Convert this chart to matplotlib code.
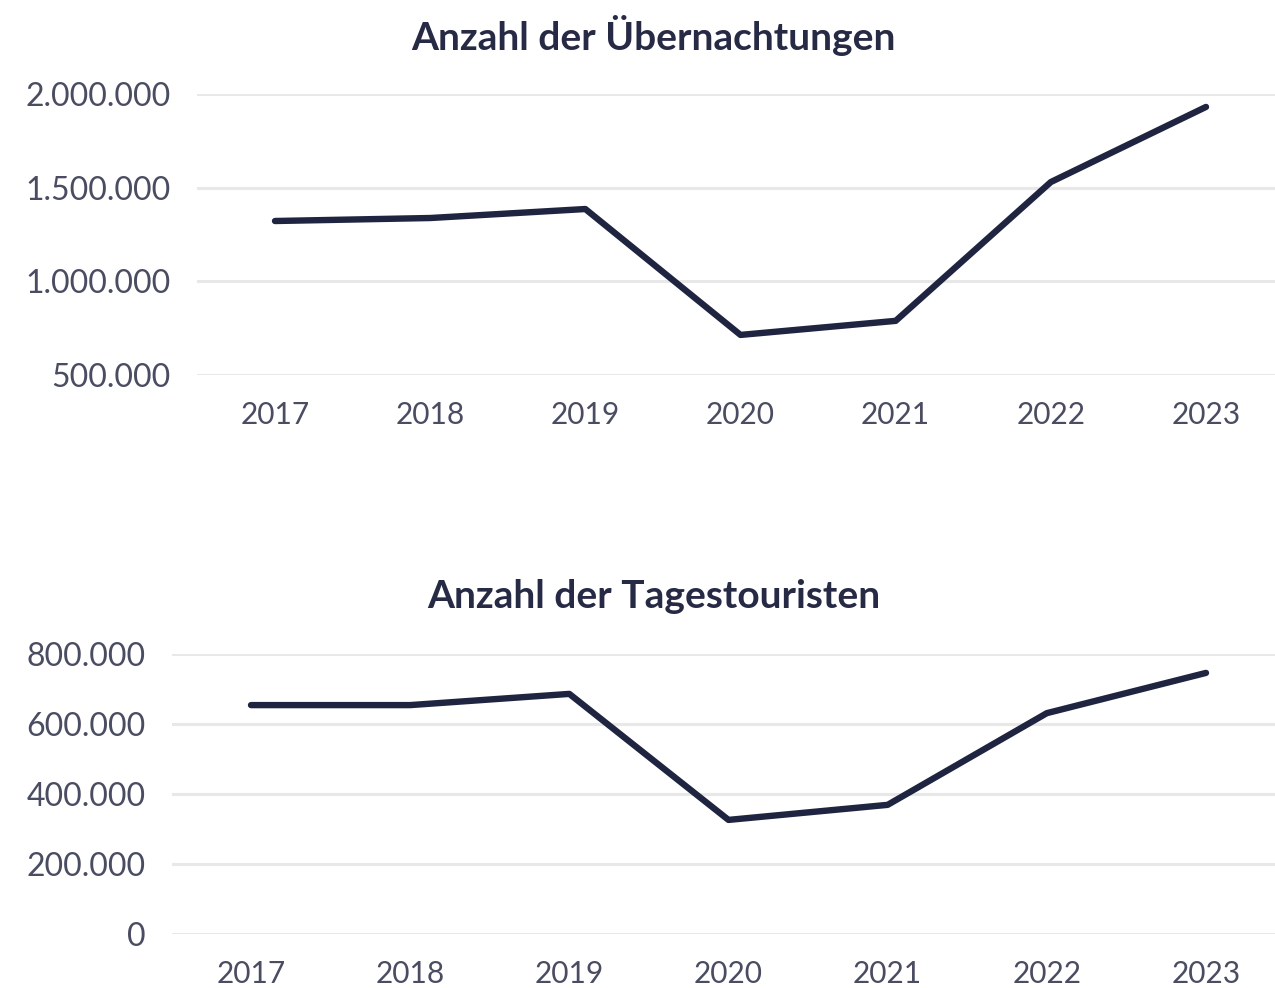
import matplotlib
matplotlib.use("Agg")
import matplotlib.pyplot as plt
from matplotlib.ticker import FuncFormatter, FixedLocator

years = ["2017", "2018", "2019", "2020", "2021", "2022", "2023"]
uebernachtungen = [1322000, 1338000, 1386000, 714000, 789000, 1530000, 1931000]
tagestouristen = [654000, 654000, 686000, 326000, 369000, 631000, 746000]

title_top = "Anzahl der Übernachtungen"
title_bottom = "Anzahl der Tagestouristen"
yticks_top = [500000, 1000000, 1500000, 2000000]
yticks_bottom = [0, 200000, 400000, 600000, 800000]

W, H = 1275, 988
LINE = "#1f2440"
GRID = "#e8e8e8"
TXT = "#4a4d62"
TITLE = "#262a45"
FONT = ["Lato", "DejaVu Sans"]

fig = plt.figure(figsize=(W / 100, H / 100), dpi=100)
fig.patch.set_facecolor("white")


def fmt(v, _pos=None):
    return f"{int(round(v)):,}".replace(",", ".")


def make_axes(left_px, top_px, bottom_px, x0_px, step_px):
    ax = fig.add_axes([left_px / W, 1 - bottom_px / H, (W - left_px) / W, (bottom_px - top_px) / H])
    xmin = (left_px - x0_px) / step_px
    xmax = (W - x0_px) / step_px
    ax.set_xlim(xmin, xmax)
    return ax


def style(ax, yticks, values):
    x = list(range(len(years)))
    ax.plot(x, values, color=LINE, lw=4.6, solid_capstyle="round",
            solid_joinstyle="round", clip_on=False, zorder=3)
    ax.set_ylim(yticks[0], yticks[-1])
    ax.yaxis.set_major_locator(FixedLocator(yticks))
    ax.yaxis.set_major_formatter(FuncFormatter(fmt))
    ax.set_xticks(x)
    ax.set_xticklabels(years)
    for s in ax.spines.values():
        s.set_visible(False)
    ax.grid(axis="y", color=GRID, lw=2.2, zorder=0)
    ax.grid(axis="x", visible=False)
    ax.tick_params(axis="both", length=0, labelcolor=TXT)
    ax.tick_params(axis="y", pad=19, labelsize=23)
    ax.tick_params(axis="x", pad=19, labelsize=21.5)
    for lab in ax.get_xticklabels() + ax.get_yticklabels():
        lab.set_family(FONT)
        lab.set_fontweight("normal")
    ax.set_facecolor("none")


ax1 = make_axes(197, 94, 375, 275, (1206 - 275) / 6)
style(ax1, yticks_top, uebernachtungen)
ax2 = make_axes(172, 654, 934, 251, (1206 - 251) / 6)
style(ax2, yticks_bottom, tagestouristen)

fig.text(653 / W, 1 - 36 / H, title_top, ha="center", va="center",
         fontsize=28, fontweight="bold", color=TITLE, family=FONT)
fig.text(654 / W, 1 - 596 / H, title_bottom, ha="center", va="center",
         fontsize=28, fontweight="bold", color=TITLE, family=FONT)

fig.savefig("out.png", dpi=100, facecolor="white")
